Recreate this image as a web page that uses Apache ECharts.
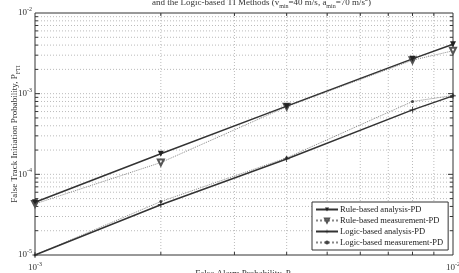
<!DOCTYPE html>
<html>
<head>
<meta charset="utf-8">
<script src="https://cdn.jsdelivr.net/npm/echarts@6/dist/echarts.min.js"></script>
<style>
  html, body { margin: 0; padding: 0; background: #fff; }
  #main { width: 459px; height: 273px; }
</style>
</head>
<body>
<div id="main"></div>
<script>
var pf = [0.001, 0.002, 0.004, 0.008, 0.01];
var ruleAnalysis = [4.5e-5, 1.8e-4, 7.0e-4, 2.7e-3, 4.1e-3];
var ruleMeasure = [4.3e-5, 1.4e-4, 6.9e-4, 2.6e-3, 3.4e-3];
var logicAnalysis = [1.0e-5, 4.2e-5, 1.55e-4, 6.3e-4, 9.4e-4];
var logicMeasure = [1.0e-5, 4.6e-5, 1.6e-4, 8.0e-4, 9.5e-4];

// grid line positions (log decades 1..9)
var xGrid = [];
for (var i = 2; i <= 9; i++) xGrid.push(i * 1e-3);
var yGrid = [];
[1e-5, 1e-4, 1e-3].forEach(function (d) {
  for (var k = 1; k <= 9; k++) {
    if (k == 1 && d == 1e-5) continue;
    yGrid.push(k * d);
  }
});

var font = 'Liberation Serif';
var plus = 'path://M-0.12,-1H0.12V-0.12H1V0.12H0.12V1H-0.12V0.12H-1V-0.12H-0.12Z';

function pair(xs, ys) {
  return xs.map(function (x, i) { return [x, ys[i]]; });
}

function powLabel(v) {
  return '{b|10}{s|' + Math.round(Math.log10(v)) + '}';
}

var labelRich = {
  b: { fontFamily: font, fontSize: 9, color: '#333' },
  s: { fontFamily: font, fontSize: 6, color: '#333', padding: [0, 0, 7, 0] }
};

var myChart = echarts.init(document.getElementById('main'));
var option = {
  animation: false,
  title: {
    text: 'and the Logic-based TI Methods (v{s|min}=40 m/s, a{s|min}=70 m/s{p|2})',
    left: 147,
    top: -9,
    textStyle: {
      fontFamily: font, fontSize: 9, fontWeight: 'normal', color: '#333',
      rich: {
        s: { fontFamily: font, fontSize: 6, color: '#333', padding: [7, 0, 0, 0] },
        p: { fontFamily: font, fontSize: 6, color: '#333', padding: [0, 0, 7, 0] }
      }
    }
  },
  grid: {
    left: 35, right: 6, top: 13, bottom: 18,
    outerBoundsMode: 'none',
    show: true, borderColor: '#333', borderWidth: 1
  },
  legend: {
    orient: 'vertical',
    left: 312, bottom: 23,
    backgroundColor: '#fff',
    borderColor: '#333', borderWidth: 1,
    padding: [3, 5, 3, 3],
    itemGap: 2,
    itemWidth: 22, itemHeight: 5,
    textStyle: { fontFamily: font, fontSize: 8.5, color: '#222', padding: [0, 0, 0, -3] },
    data: ['Rule-based analysis-PD', 'Rule-based measurement-PD', 'Logic-based analysis-PD', 'Logic-based measurement-PD']
  },
  xAxis: {
    type: 'log', logBase: 10, min: 0.001, max: 0.01,
    name: 'False Alarm Probability, P{s|f}',
    nameLocation: 'middle', nameGap: 12, nameMoveOverlap: false,
    nameTextStyle: {
      fontFamily: font, fontSize: 9, color: '#333',
      rich: { s: { fontFamily: font, fontSize: 6, color: '#333', padding: [7, 0, 0, 0] } }
    },
    axisLine: { show: false },
    axisTick: { show: false },
    splitLine: { show: false },
    axisLabel: { margin: 6, formatter: powLabel, rich: labelRich, showMinLabel: true, showMaxLabel: true }
  },
  yAxis: {
    type: 'log', logBase: 10, min: 1e-5, max: 1e-2,
    name: 'False Track Initiation Probability, P{s|FTI}',
    nameLocation: 'middle', nameGap: 14, nameMoveOverlap: false,
    nameTextStyle: {
      fontFamily: font, fontSize: 9, color: '#333',
      rich: { s: { fontFamily: font, fontSize: 6, color: '#333', padding: [7, 0, 0, 0] } }
    },
    axisLine: { show: false },
    axisTick: { show: false },
    splitLine: { show: false },
    axisLabel: { margin: 3, formatter: powLabel, rich: labelRich }
  },
  series: [
    {
      type: 'custom', silent: true, z: 1,
      data: xGrid.map(function (v) { return [v, 1e-5]; }),
      renderItem: function (params, api) {
        var p0 = api.coord([api.value(0), 1e-5]);
        var p1 = api.coord([api.value(0), 1e-2]);
        var st = { stroke: '#aaa', lineWidth: 0.8, lineDash: [1, 2] };
        var tk = { stroke: '#333', lineWidth: 1 };
        return { type: 'group', children: [
          { type: 'line', shape: { x1: p0[0], y1: p0[1], x2: p1[0], y2: p1[1] }, style: st },
          { type: 'line', shape: { x1: p0[0], y1: p0[1], x2: p0[0], y2: p0[1] - 3 }, style: tk },
          { type: 'line', shape: { x1: p1[0], y1: p1[1], x2: p1[0], y2: p1[1] + 3 }, style: tk }
        ] };
      }
    },
    {
      type: 'custom', silent: true, z: 1,
      data: yGrid.map(function (v) { return [0.001, v]; }),
      renderItem: function (params, api) {
        var v = api.value(1);
        var p0 = api.coord([0.001, v]);
        var p1 = api.coord([0.01, v]);
        var major = Math.abs(Math.log10(v) - Math.round(Math.log10(v))) < 1e-6;
        var len = major ? 5 : 3;
        var st = { stroke: '#aaa', lineWidth: 0.8, lineDash: [1, 2] };
        var tk = { stroke: '#333', lineWidth: 1 };
        return { type: 'group', children: [
          { type: 'line', shape: { x1: p0[0], y1: p0[1], x2: p1[0], y2: p1[1] }, style: st },
          { type: 'line', shape: { x1: p0[0], y1: p0[1], x2: p0[0] + len, y2: p0[1] }, style: tk },
          { type: 'line', shape: { x1: p1[0], y1: p1[1], x2: p1[0] - len, y2: p1[1] }, style: tk }
        ] };
      }
    },
    {
      name: 'Rule-based analysis-PD', type: 'line', z: 5,
      data: pair(pf, ruleAnalysis),
      symbol: 'triangle', symbolRotate: 180, symbolSize: 6, showAllSymbol: true,
      itemStyle: { color: '#222' },
      lineStyle: { color: '#333', width: 1.5 }
    },
    {
      name: 'Rule-based measurement-PD', type: 'line', z: 4,
      data: pair(pf, ruleMeasure),
      symbol: 'emptyTriangle', symbolRotate: 180, symbolSize: 6, showAllSymbol: true,
      itemStyle: { color: '#555', borderWidth: 1.5 },
      lineStyle: { color: '#888', width: 1, type: 'dotted' }
    },
    {
      name: 'Logic-based analysis-PD', type: 'line', z: 5,
      data: pair(pf, logicAnalysis),
      symbol: plus, symbolSize: 6, showAllSymbol: true,
      itemStyle: { color: '#222' },
      lineStyle: { color: '#333', width: 1.5 }
    },
    {
      name: 'Logic-based measurement-PD', type: 'line', z: 4,
      data: pair(pf, logicMeasure),
      symbol: 'circle', symbolSize: 3, showAllSymbol: true,
      itemStyle: { color: '#444' },
      lineStyle: { color: '#888', width: 1, type: 'dotted' }
    }
  ]
};
myChart.setOption(option);
</script>
</body>
</html>
